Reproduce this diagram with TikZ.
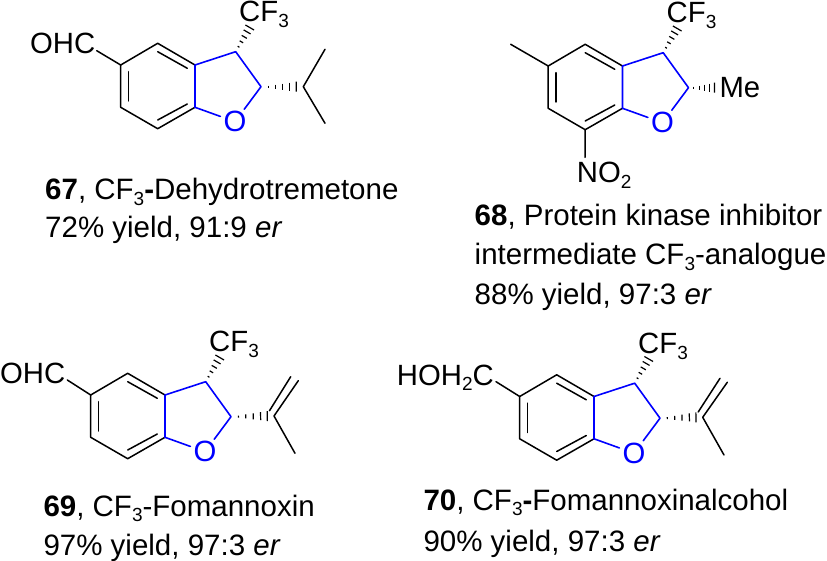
\documentclass[tikz,border=0pt]{standalone}
\usepackage{fontspec}
\setmainfont{Liberation Sans}
\usetikzlibrary{calc}

\newcommand{\lowsub}[1]{\raisebox{-0.2em}{\fontsize{19}{19}\selectfont #1}}
% hashed bond, narrow end first
\newcommand{\hashbond}[2]{%
  \foreach \t/\w in {0.2/1.0,0.4/2.0,0.6/3.0,0.8/4.0,0.98/5.0}{%
    \coordinate (hp) at ($(#1)!\t!(#2)$);
    \draw[thin bond] ($(hp)!\w pt!90:(#2)$) -- ($(hp)!\w pt!-90:(#2)$);
  }%
}

\tikzset{
  bond/.style={line width=1.5pt, black, line cap=round, line join=round},
  thin bond/.style={line width=1.2pt, black},
  furan/.style={line width=1.6pt, blue, line cap=round, line join=round},
  chem/.style={inner sep=0pt, anchor=base west, font=\fontsize{29.3}{29.3}\selectfont},
  caption/.style={inner sep=0pt, anchor=base west, font=\fontsize{29.5}{29.5}\selectfont},
  pics/core/.style={code={
    \coordinate (a) at (157.7,43.3);
    \coordinate (b) at (195,65);
    \coordinate (c) at (195,107.3);
    \coordinate (d) at (157.7,128.7);
    \coordinate (e) at (120.7,107.3);
    \coordinate (f) at (120.7,65);
    \coordinate (three) at (235.7,51.7);
    \coordinate (two) at (261,86.7);
    \coordinate (top) at (250,27);
    \node[circle, inner sep=0pt, minimum size=30pt, text=blue,
      font=\fontsize{29.3}{29.3}\selectfont] (O) at (235,121.7) {O};
    \node[chem] (cf) at (239,21.7) {CF\lowsub{3}};
    % benzene part
    \draw[bond] (c) -- (d) -- (e) -- (f) -- (a) -- (b);
    \draw[bond] (157.7,51.7) -- (187.3,68.3);
    \draw[bond] (187.3,104) -- (157.7,120);
    \draw[bond] (128.7,71.7) -- (128.7,101);
    % five ring
    \draw[furan] (c) -- (b) -- (three) -- (two) -- (O);
    \draw[furan] (c) -- (O);
    \hashbond{three}{top}
  }}
}

\begin{document}
\begin{tikzpicture}[x=1pt, y=-1pt]
\useasboundingbox (0,0) rectangle (827,561);

% 67
\pic (ma) at (0,0) {core};
\node[chem] (ohca) at (30,54) {OHC};
\coordinate (ohcaend) at (96.7,50.7);
\draw[bond] (ohcaend) -- (maf);
\coordinate (ipra) at (303.3,86.7);
\coordinate (ipraup) at (325,49.3);
\coordinate (ipradn) at (325,123.3);
\coordinate (hasha) at (297,86.7);
\hashbond{matwo}{hasha}
\draw[bond] (ipraup) -- (ipra) -- (ipradn);
\node[caption] (capa) at (45,200) {\textbf{67}, CF\lowsub{3}\textbf{-}Dehydrotremetone};
\node[caption] (capb) at (45,238) {72\% yield, 91:9 \textit{er}};

% 68
\pic (mb) at (427.5,1) {core};
\coordinate (mebend) at (510.7,44.3);
\draw[bond] (mebend) -- (mbf);
\node[chem] (meb) at (719.3,97.3) {Me};
\coordinate (hashb) at (715,87.7);
\hashbond{mbtwo}{hashb}
\node[chem] (nitro) at (576.7,182.7) {NO\lowsub{2}};
\coordinate (nitroend) at (585,157.3);
\draw[bond] (mbd) -- (nitroend);
\node[caption] (capc) at (474.5,226) {\textbf{68}, Protein kinase inhibitor};
\node[caption] (capd) at (474.5,265) {intermediate CF\lowsub{3}-analogue};
\node[caption] (cape) at (474.5,305) {88\% yield, 97:3 \textit{er}};

% 69
\pic (mc) at (-30,330) {core};
\node[chem] (ohcc) at (0,383.3) {OHC};
\coordinate (ohccend) at (67.3,380);
\draw[bond] (ohccend) -- (mcf);
\coordinate (isoc) at (274,416);
\coordinate (methc) at (295,453.3);
\coordinate (vinc) at (298.3,380.7);
\coordinate (isocb) at (269.5,410.7);
\coordinate (vincb) at (290.7,376.7);
\coordinate (hashc) at (268,416);
\hashbond{mctwo}{hashc}
\draw[bond] (methc) -- (isoc) -- (vinc);
\draw[bond] (isocb) -- (vincb);
\node[caption] (capf) at (43.3,516) {\textbf{69}, CF\lowsub{3}-Fomannoxin};
\node[caption] (capg) at (43.3,555) {97\% yield, 97:3 \textit{er}};

% 70
\pic (md) at (399,331.5) {core};
\node[chem] (hoch) at (396.7,385) {HOH\lowsub{2}C};
\coordinate (hochend) at (496,381.7);
\draw[bond] (hochend) -- (mdf);
\coordinate (isod) at (702.7,417.3);
\coordinate (methd) at (724,455);
\coordinate (vind) at (727.3,382.3);
\coordinate (isodb) at (698.2,412);
\coordinate (vindb) at (720,378.3);
\coordinate (hashd) at (696.7,417.3);
\hashbond{mdtwo}{hashd}
\draw[bond] (methd) -- (isod) -- (vind);
\draw[bond] (isodb) -- (vindb);
\node[caption] (caph) at (423.3,510) {\textbf{70}, CF\lowsub{3}\textbf{-}Fomannoxinalcohol};
\node[caption] (capi) at (423.3,551.5) {90\% yield, 97:3 \textit{er}};
\end{tikzpicture}
\end{document}
